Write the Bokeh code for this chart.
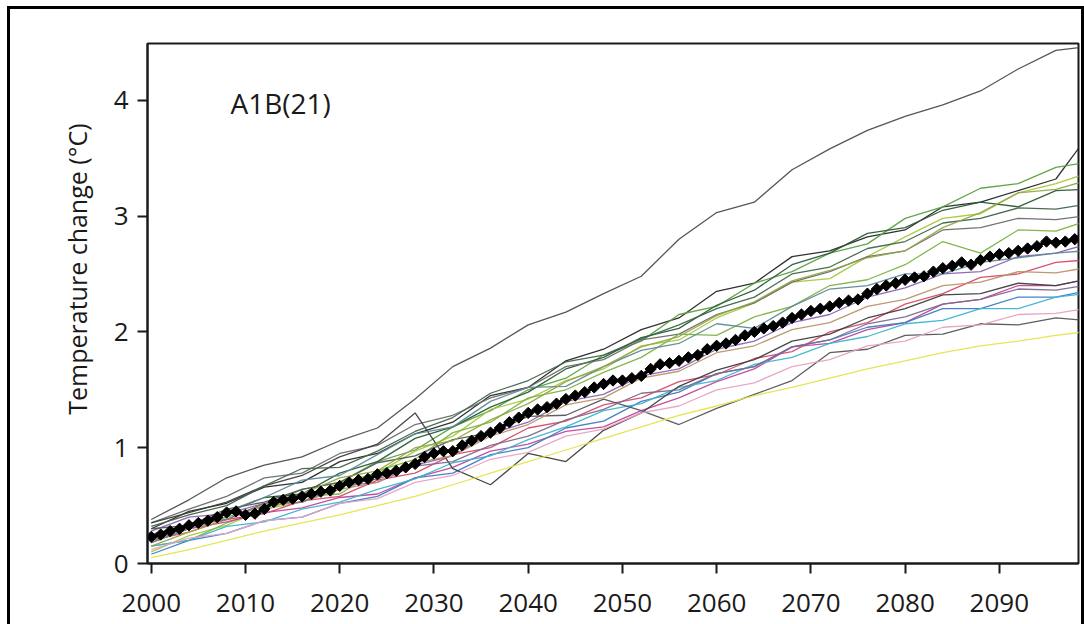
from bokeh.plotting import figure
from bokeh.models import Label, Title, FixedTicker
from bokeh.embed import file_html
from bokeh.resources import INLINE

# ---------------- data ----------------
model_years = [2000, 2004, 2008, 2012, 2016, 2020, 2024, 2028, 2032, 2036, 2040, 2044, 2048,
               2052, 2056, 2060, 2064, 2068, 2072, 2076, 2080, 2084, 2088, 2092, 2096, 2099]

m01 = [0.38,0.55,0.74,0.85,0.92,1.06,1.17,1.42,1.70,1.86,2.06,2.17,2.33,2.48,2.80,3.03,3.12,3.40,3.58,3.74,3.86,3.96,4.08,4.27,4.43,4.46]
m02 = [0.30,0.45,0.52,0.66,0.70,0.88,0.95,1.12,1.22,1.45,1.52,1.75,1.85,2.02,2.12,2.35,2.42,2.65,2.70,2.82,2.88,3.08,3.12,3.22,3.32,3.65]
m03 = [0.20,0.30,0.40,0.50,0.64,0.70,0.88,0.98,1.18,1.32,1.50,1.60,1.80,1.92,2.15,2.22,2.42,2.52,2.68,2.76,2.98,3.08,3.24,3.28,3.42,3.46]
m04 = [0.10,0.24,0.33,0.47,0.53,0.70,0.78,0.97,1.10,1.33,1.42,1.58,1.68,1.88,1.93,2.12,2.25,2.43,2.46,2.65,2.82,2.98,3.02,3.20,3.28,3.36]
m05 = [0.25,0.33,0.44,0.57,0.60,0.78,0.88,1.08,1.18,1.35,1.48,1.68,1.78,1.95,2.03,2.23,2.36,2.58,2.68,2.85,2.90,3.05,3.12,3.08,3.22,3.23]
m06 = [0.35,0.47,0.58,0.74,0.78,0.95,1.02,1.20,1.28,1.43,1.52,1.70,1.76,1.93,1.98,2.15,2.25,2.43,2.52,2.65,2.70,2.88,2.90,2.98,2.97,3.00]
m07 = [0.15,0.20,0.35,0.46,0.58,0.60,0.80,0.90,1.13,1.22,1.43,1.50,1.65,1.78,1.98,1.97,2.13,2.22,2.40,2.45,2.58,2.78,2.68,2.88,2.87,2.95]
m08 = [0.28,0.40,0.43,0.52,0.56,0.67,0.70,0.85,0.93,1.12,1.22,1.40,1.46,1.62,1.68,1.85,1.92,2.08,2.15,2.30,2.38,2.50,2.52,2.65,2.68,2.75]
m09 = [0.20,0.27,0.38,0.43,0.54,0.58,0.72,0.78,0.94,1.00,1.17,1.23,1.37,1.43,1.57,1.63,1.77,1.83,2.00,2.08,2.24,2.33,2.47,2.50,2.60,2.62]
m10 = [0.18,0.30,0.36,0.44,0.48,0.57,0.60,0.74,0.83,0.97,1.03,1.14,1.18,1.32,1.43,1.57,1.68,1.87,1.90,2.02,2.08,2.24,2.28,2.40,2.40,2.45]
m11 = [0.08,0.20,0.26,0.37,0.40,0.52,0.58,0.74,0.78,0.94,1.00,1.17,1.23,1.40,1.48,1.64,1.70,1.87,1.93,2.04,2.08,2.20,2.20,2.30,2.30,2.35]
m12 = [0.15,0.20,0.32,0.36,0.47,0.53,0.64,0.73,0.87,0.93,1.07,1.18,1.32,1.38,1.52,1.58,1.72,1.78,1.90,1.96,2.07,2.10,2.20,2.20,2.30,2.33]
m13 = [0.35,0.44,0.53,0.67,0.76,0.92,1.03,1.30,0.82,0.68,0.95,0.88,1.15,1.30,1.53,1.67,1.76,1.92,1.98,2.12,2.20,2.32,2.33,2.42,2.40,2.45]
m14 = [0.30,0.33,0.47,0.53,0.64,0.70,0.87,0.93,1.07,1.13,1.27,1.28,1.42,1.32,1.20,1.34,1.46,1.58,1.82,1.85,1.97,1.98,2.07,2.06,2.12,2.10]
m15 = [0.12,0.22,0.26,0.37,0.40,0.52,0.56,0.70,0.76,0.90,0.96,1.10,1.16,1.30,1.36,1.50,1.56,1.70,1.76,1.88,1.92,2.04,2.06,2.15,2.16,2.20]
m16 = [0.05,0.12,0.20,0.28,0.35,0.42,0.50,0.58,0.68,0.78,0.88,0.98,1.08,1.18,1.28,1.36,1.45,1.52,1.60,1.68,1.75,1.82,1.88,1.92,1.97,2.00]
m17 = [0.22,0.32,0.38,0.50,0.53,0.64,0.70,0.87,0.93,1.10,1.20,1.37,1.43,1.60,1.66,1.82,1.88,2.02,2.08,2.22,2.28,2.40,2.43,2.52,2.51,2.55]
m18 = [0.18,0.30,0.45,0.57,0.72,0.76,0.94,1.12,1.18,1.40,1.52,1.53,1.70,1.84,1.90,2.07,2.03,2.22,2.37,2.40,2.50,2.50,2.60,2.64,2.68,2.70]
m19 = [0.32,0.42,0.50,0.67,0.82,0.83,0.97,1.14,1.26,1.47,1.58,1.74,1.80,1.94,2.06,2.20,2.30,2.50,2.56,2.72,2.78,2.94,2.98,3.07,3.06,3.10]
m20 = [0.15,0.27,0.38,0.52,0.60,0.74,0.80,1.00,1.06,1.24,1.38,1.57,1.70,1.87,1.96,2.14,2.26,2.44,2.53,2.64,2.70,2.90,3.03,3.20,3.23,3.30]
m21 = [0.25,0.34,0.38,0.52,0.53,0.67,0.73,0.84,0.88,1.02,1.10,1.24,1.33,1.47,1.50,1.64,1.70,1.87,1.93,2.07,2.13,2.24,2.28,2.37,2.36,2.40]

models = [m01, m02, m03, m04, m05, m06, m07, m08, m09, m10, m11,
          m12, m13, m14, m15, m16, m17, m18, m19, m20, m21]

model_colors = ["#4d4d4d", "#262626", "#5aa040", "#a8c83c", "#2a5a34", "#6b6b6b", "#7cb342",
                "#8a64b4", "#d84a6a", "#c2449a", "#3b7cc4", "#3cb4d2", "#3d3d3d", "#555555",
                "#e8a2c4", "#e4e44c", "#b8946a", "#5e8a96", "#3e6648", "#94a848", "#7a6a8c"]

mean_years = list(range(2000, 2100))
mean_values = [
    0.23, 0.25, 0.28, 0.30, 0.33, 0.35, 0.37, 0.40, 0.44, 0.45,
    0.42, 0.43, 0.47, 0.53, 0.55, 0.56, 0.58, 0.60, 0.62, 0.63,
    0.67, 0.70, 0.72, 0.73, 0.77, 0.78, 0.80, 0.83, 0.86, 0.92,
    0.95, 0.97, 0.97, 1.02, 1.06, 1.10, 1.13, 1.17, 1.22, 1.26,
    1.30, 1.33, 1.35, 1.38, 1.42, 1.45, 1.48, 1.52, 1.55, 1.58,
    1.58, 1.60, 1.62, 1.68, 1.72, 1.73, 1.75, 1.78, 1.80, 1.85,
    1.88, 1.90, 1.93, 1.97, 2.00, 2.03, 2.05, 2.08, 2.12, 2.15,
    2.18, 2.20, 2.22, 2.25, 2.27, 2.28, 2.33, 2.37, 2.40, 2.42,
    2.45, 2.47, 2.48, 2.52, 2.55, 2.57, 2.60, 2.58, 2.62, 2.65,
    2.67, 2.68, 2.70, 2.72, 2.74, 2.78, 2.77, 2.78, 2.80, 2.85,
]

x_ticks = [2000, 2010, 2020, 2030, 2040, 2050, 2060, 2070, 2080, 2090]
y_ticks = [0, 1, 2, 3, 4]
scenario_label = "A1B(21)"
y_title = "Temperature change (°C)"

# ---------------- figure ----------------
FONT = "Open Sans"
X0, X1 = 1999.6, 2098.4
Y0, Y1 = 0.0, 4.49

p = figure(width=1084, height=624, x_range=(X0, X1), y_range=(Y0, Y1),
           output_backend="svg", toolbar_location=None,
           min_border_left=147, min_border_right=6, min_border_top=43, min_border_bottom=61,
           background_fill_color="white", border_fill_color="white")

# outer panel frame (drawn with CSS on the figure's host element)
p.stylesheets = [
    ":host::after { content: ''; position: absolute; left: 7px; top: 6px; "
    "width: 1077px; height: 618px; box-sizing: border-box; "
    "border: 3px solid #000; border-bottom: none; pointer-events: none; }"
]

p.grid.visible = False
p.outline_line_color = "#1a1a1a"
p.outline_line_width = 2
p.outline_line_alpha = 1.0

for ax in (p.xaxis[0], p.yaxis[0]):
    ax.axis_line_width = 2
    ax.axis_line_color = "#1a1a1a"
    ax.major_tick_line_width = 2
    ax.major_tick_line_color = "#1a1a1a"
    ax.major_tick_in = 0
    ax.major_tick_out = 10
    ax.minor_tick_line_color = None
    ax.major_label_text_font = FONT
    ax.major_label_text_font_size = "26px"
    ax.major_label_text_color = "#1a1a1a"

p.xaxis[0].ticker = FixedTicker(ticks=x_ticks)
p.yaxis[0].ticker = FixedTicker(ticks=y_ticks)
p.xaxis[0].major_label_standoff = 20
p.yaxis[0].major_label_standoff = 9

for ys, col in zip(models, model_colors):
    p.line(model_years, ys, line_color=col, line_width=1.3, line_alpha=0.95)

p.line(mean_years, mean_values, line_color="black", line_width=3.5)
p.scatter(mean_years, mean_values, marker="square", size=8, color="black", angle=0.785)

p.add_layout(Label(x=2008.4, y=3.98, text=scenario_label, text_font=FONT,
                   text_font_size="28px", text_color="#1a1a1a", text_baseline="middle",
                   text_align="left"))

p.add_layout(Title(text=y_title, align="right", offset=80, standoff=33,
                   text_font=FONT, text_font_size="25px", text_font_style="normal",
                   text_color="#1a1a1a"), "left")

open("out.html", "w").write(file_html(p, INLINE))
